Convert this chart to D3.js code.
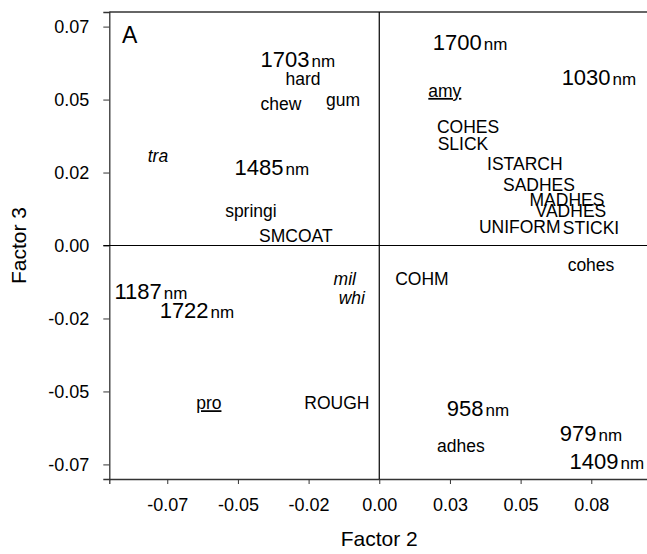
<!DOCTYPE html>
<html>
<head>
<meta charset="utf-8">
<script src="https://cdn.jsdelivr.net/npm/d3@7"></script>
<style>
  body { margin: 0; background: #fff; }
  svg { display: block; font-family: Arial, "Liberation Sans", Helvetica, sans-serif; }
</style>
</head>
<body>
<div id="chart"></div>
<script>
// tick values and the labels printed on the original
const xTicks = [-0.075, -0.05, -0.025, 0, 0.025, 0.05, 0.075];
const xTickLabels = ["-0.07", "-0.05", "-0.02", "0.00", "0.03", "0.05", "0.08"];
const yTicks = [0.075, 0.05, 0.025, 0, -0.025, -0.05, -0.075];
const yTickLabels = ["0.07", "0.05", "0.02", "0.00", "-0.02", "-0.05", "-0.07"];

// plotted labels (Factor 2, Factor 3)
const labels = ["1703", "hard", "chew", "gum", "tra", "1485", "springi", "SMCOAT",
  "1700", "1030", "amy", "COHES", "SLICK", "ISTARCH", "SADHES", "MADHES", "VADHES",
  "UNIFORM", "STICKI", "mil", "whi", "1187", "1722", "pro", "ROUGH", "COHM", "cohes",
  "958", "adhes", "979", "1409"];
const factor2 = [-0.0288, -0.0270, -0.0348, -0.0128, -0.0783, -0.0380, -0.0454, -0.0295,
  0.0321, 0.0777, 0.0232, 0.0314, 0.0296, 0.0515, 0.0565, 0.0664, 0.0678,
  0.0497, 0.0749, -0.0122, -0.0097, -0.0808, -0.0645, -0.0603, -0.0150, 0.0151, 0.0749,
  0.0349, 0.0289, 0.0749, 0.0805];
const factor3 = [0.0633, 0.0571, 0.0486, 0.0500, 0.0308, 0.0263, 0.0120, 0.0034,
  0.0691, 0.0571, 0.0530, 0.0407, 0.0349, 0.0280, 0.0209, 0.0157, 0.0120,
  0.0065, 0.0062, -0.0113, -0.0181, -0.0161, -0.0229, -0.0540, -0.0540, -0.0116, -0.0068,
  -0.0564, -0.0687, -0.0650, -0.0746];
// n = wavelength, i = italic, u = underlined, t = plain text
const kinds = ["n", "t", "t", "t", "i", "n", "t", "t",
  "n", "n", "u", "t", "t", "t", "t", "t", "t",
  "t", "t", "i", "i", "n", "n", "u", "t", "t", "t",
  "n", "t", "n", "n"];

const width = 647, height = 554;

const svg = d3.select("#chart").append("svg")
    .attr("width", width)
    .attr("height", height);

const x = d3.scaleLinear().domain([-0.0955, 0.098]).range([109.3, 656.3]);
const y = d3.scaleLinear().domain([-0.08, 0.08]).range([479, 12]);

// frame top line (right side runs off the page)
svg.append("line")
    .attr("x1", x.range()[0]).attr("x2", x.range()[1])
    .attr("y1", y(0.08)).attr("y2", y(0.08))
    .attr("stroke", "#333").attr("stroke-width", 1.3);

// axes
const xAxis = svg.append("g")
    .attr("transform", `translate(0,${y(-0.08)})`)
    .call(d3.axisBottom(x).tickValues(xTicks).tickSize(5).tickPadding(14)
      .tickFormat((d, i) => xTickLabels[i]));

const yAxis = svg.append("g")
    .attr("transform", `translate(${x(-0.0955)},0)`)
    .call(d3.axisLeft(y).tickValues(yTicks).tickSize(6).tickPadding(14)
      .tickFormat((d, i) => yTickLabels[i]));

[xAxis, yAxis].forEach(g => {
  g.select(".domain").attr("stroke", "#333").attr("stroke-width", 1.3);
  g.selectAll(".tick line").attr("stroke", "#333");
  g.selectAll(".tick text")
      .attr("fill", "#000")
      .style("font-size", "18px")
      .style("font-family", "Arial, 'Liberation Sans', sans-serif");
});

// zero lines
svg.append("line")
    .attr("x1", x(0)).attr("x2", x(0))
    .attr("y1", y(0.08)).attr("y2", y(-0.08))
    .attr("stroke", "#000").attr("stroke-width", 1.2);
svg.append("line")
    .attr("x1", x(-0.0955) - 6).attr("x2", x.range()[1])
    .attr("y1", y(0)).attr("y2", y(0))
    .attr("stroke", "#000").attr("stroke-width", 1.2);

// axis titles
svg.append("text")
    .attr("x", x(0)).attr("y", 546)
    .attr("text-anchor", "middle")
    .style("font-size", "21px")
    .text("Factor 2");

svg.append("text")
    .attr("transform", `translate(26,${y(0)}) rotate(-90)`)
    .attr("text-anchor", "middle")
    .style("font-size", "21px")
    .text("Factor 3");

// panel letter
svg.append("text")
    .attr("x", 122).attr("y", 43)
    .style("font-size", "23px")
    .text("A");

// labels
const data = labels.map((d, i) => ({ label: d, f2: factor2[i], f3: factor3[i], kind: kinds[i] }));

const lab = svg.append("g").selectAll("text")
  .data(data)
  .join("text")
    .attr("x", d => x(d.f2))
    .attr("y", d => y(d.f3))
    .attr("dy", "0.35em")
    .attr("text-anchor", "middle")
    .style("font-size", "17.5px")
    .style("font-style", d => d.kind === "i" ? "italic" : null)
    .style("text-decoration", d => d.kind === "u" ? "underline" : null);

lab.filter(d => d.kind !== "n").text(d => d.label);

lab.filter(d => d.kind === "n").each(function(d) {
  const t = d3.select(this);
  t.append("tspan").style("font-size", "22px").text(d.label);
  t.append("tspan").attr("dx", 2).style("font-size", "17px").text("nm");
});
</script>
</body>
</html>
